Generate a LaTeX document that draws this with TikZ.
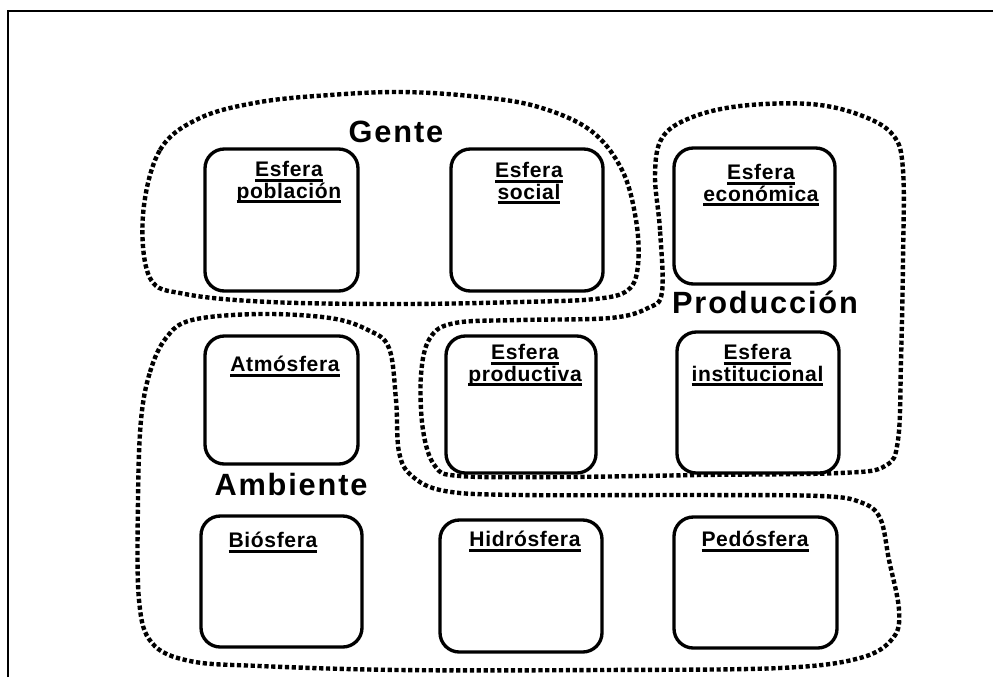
\documentclass[tikz,border=0pt]{standalone}
\usepackage{fontspec}
\setmainfont{Liberation Sans}
\newfontfamily\esferafont{Liberation Sans}[LetterSpace=3]
\newfontfamily\grupofont{Liberation Sans}[LetterSpace=6]
\newcommand\subrayado[1]{\leavevmode\setbox0\hbox{#1}\rlap{\rule[-2.9pt]{\wd0}{1.7pt}}\box0}
\tikzset{
  esfera/.style 2 args={draw, line width=1.9pt, rounded corners=11pt, inner sep=0pt,
    minimum width=#1*0.02cm, minimum height=#2*0.02cm},
  esferatitulo/.style={anchor=north, inner sep=0pt, align=center,
    font=\esferafont\bfseries\fontsize{12}{12.2}\selectfont},
  grupo/.style={line width=2.5pt, dash pattern=on 2.4pt off 1.5pt},
  grupotitulo/.style={anchor=base, inner sep=0pt,
    font=\grupofont\bfseries\fontsize{17.5}{19}\selectfont},
}

\begin{document}
\begin{tikzpicture}[x=0.02cm, y=-0.02cm]
    \useasboundingbox (0,0) rectangle (993,677);
    \draw[line width=0.9pt] (8,677) -- (8,11) -- (993,11);
    % grupos
    \draw[grupo] plot[smooth cycle, tension=0.6] coordinates {
      (143,215) (160,150) (200,118) (260,102) (330,95) (400,92) (470,96) (535,106)
      (590,130) (622,170) (636,220) (638,265) (628,290) (595,299) (520,302)
      (400,304) (270,302) (185,294) (150,278)};
    \draw[grupo] plot[smooth cycle, tension=0.6] coordinates {
      (662,292) (660,230) (655,175) (662,138) (690,118) (740,106) (810,104)
      (860,115) (893,135) (903,170) (903,260) (901,360) (898,440) (885,466)
      (840,473) (700,475) (560,477) (460,476) (435,466) (423,430) (421,375)
      (430,338) (455,323) (520,320) (610,318) (648,308)};
    \draw[grupo] plot[smooth cycle, tension=0.6] coordinates {
      (141,420) (150,372) (166,338) (192,320) (260,314) (330,318) (368,330)
      (389,348) (396,400) (399,452) (412,476) (445,491) (520,495) (700,495)
      (820,496) (860,502) (880,518) (889,560) (899,610) (893,638) (860,658)
      (780,668) (600,670) (400,670) (260,666) (190,661) (152,643) (139,600)
      (138,500)};
    % esferas
    \node[esfera={153}{142}] (poblacion) at (281.5,220) {};
    \node[esfera={152}{142}] (social) at (527,220) {};
    \node[esfera={161}{136}] (economica) at (754.5,216) {};
    \node[esfera={153}{128}] (atmosfera) at (281.5,400) {};
    \node[esfera={150}{137}] (productiva) at (521,404.5) {};
    \node[esfera={162}{141}] (institucional) at (758,402.5) {};
    \node[esfera={161}{131}] (biosfera) at (281.5,581.5) {};
    \node[esfera={162}{132}] (hidrosfera) at (521,586) {};
    \node[esfera={163}{131}] (pedosfera) at (755.5,582.5) {};
    \node[esferatitulo] (poblaciont) at (289,161) {\subrayado{Esfera}\\\subrayado{población}};
    \node[esferatitulo] (socialt) at (529,162) {\subrayado{Esfera}\\\subrayado{social}};
    \node[esferatitulo] (economicat) at (761,164) {\subrayado{Esfera}\\\subrayado{económica}};
    \node[esferatitulo] (atmosferat) at (285,356) {\subrayado{Atmósfera}};
    \node[esferatitulo] (productivat) at (525,344) {\subrayado{Esfera}\\\subrayado{productiva}};
    \node[esferatitulo] (institucionalt) at (757.5,344) {\subrayado{Esfera}\\\subrayado{institucional}};
    \node[esferatitulo] (biosferat) at (273,532) {\subrayado{Biósfera}};
    \node[esferatitulo] (hidrosferat) at (525,531) {\subrayado{Hidrósfera}};
    \node[esferatitulo] (pedosferat) at (755,531) {\subrayado{Pedósfera}};
    % nombres de grupo
    \node[grupotitulo] (gente) at (396,142) {Gente};
    \node[grupotitulo] (produccion) at (765,313) {Producción};
    \node[grupotitulo] (ambiente) at (291,495) {Ambiente};
\end{tikzpicture}
\end{document}
